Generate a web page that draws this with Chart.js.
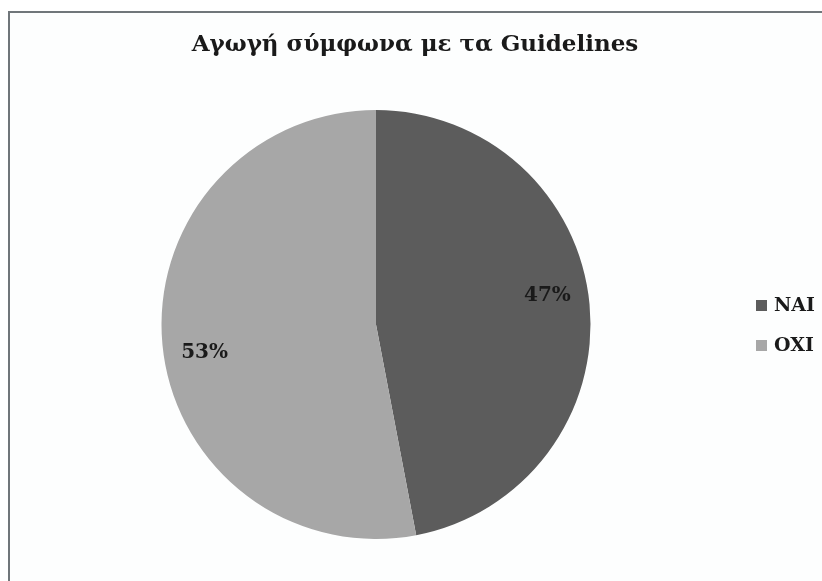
<!DOCTYPE html>
<html>
<head>
<meta charset="utf-8">
<script src="https://cdn.jsdelivr.net/npm/chart.js@4"></script>
<style>
  html, body { margin: 0; padding: 0; background: #ffffff; }
  #wrap { position: relative; width: 822px; height: 581px; overflow: hidden; }
  #frame {
    position: absolute; left: 8px; top: 11px; width: 830px; height: 600px;
    border-left: 2px solid #70767a; border-top: 2px solid #70767a;
    background: #fdfefe;
  }
  #pieChart { position: absolute; left: 0; top: 0; }
</style>
</head>
<body>
<div id="wrap">
  <div id="frame"></div>
  <canvas id="pieChart" width="822" height="581"></canvas>
</div>
<script>
const chartTitle = 'Αγωγή σύμφωνα με τα Guidelines';
const categories = ['NAI', 'OXI'];
const shares = [47, 53];
const sliceColors = ['#5c5c5c', '#a7a7a7'];

const serif = '"DejaVu Serif", "Liberation Serif", serif';

// title, percent labels and the legend are painted on top of the pie
const textPlugin = {
    id: 'pieText',
    afterDraw(chart) {
        const c = chart.ctx;
        c.save();
        c.fillStyle = '#1a1a1a';
        c.textAlign = 'center';
        c.textBaseline = 'middle';
        c.font = 'bold 23px ' + serif;
        c.fillText(chartTitle, 415, 45);

        // labels sit a little counter-clockwise of each slice middle
        const meta = chart.getDatasetMeta(0);
        c.font = 'bold 20px ' + serif;
        meta.data.forEach((arc, i) => {
            const mid = (arc.startAngle + arc.endAngle) / 2 - 0.07;
            const r = arc.outerRadius * 0.81;
            c.fillText(shares[i] + '%', arc.x + Math.cos(mid) * r, arc.y + Math.sin(mid) * r);
        });

        c.textAlign = 'left';
        c.font = 'bold 19px ' + serif;
        categories.forEach((name, i) => {
            const y = 305 + i * 40;
            c.fillStyle = sliceColors[i];
            c.fillRect(756, y - 5, 11, 11);
            c.fillStyle = '#1a1a1a';
            c.fillText(name, 774, y + 1);
        });
        c.restore();
    }
};

new Chart(document.getElementById('pieChart').getContext('2d'), {
    type: 'pie',
    data: {
        labels: categories,
        datasets: [{
            data: shares,
            backgroundColor: sliceColors,
            borderWidth: 0
        }]
    },
    options: {
        responsive: false,
        animation: false,
        layout: { padding: { left: 161, right: 231, top: 110, bottom: 42 } },
        plugins: {
            legend: { display: false },
            title: { display: false },
            tooltip: { enabled: false }
        }
    },
    plugins: [textPlugin]
});
</script>
</body>
</html>
